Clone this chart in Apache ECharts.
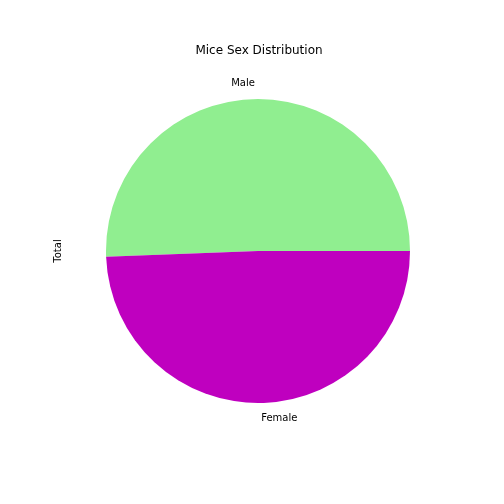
<!DOCTYPE html>
<html>
<head>
<meta charset="utf-8">
<script src="https://cdn.jsdelivr.net/npm/echarts@6/dist/echarts.min.js"></script>
<style>
  html, body { margin: 0; padding: 0; background: #fff; }
  #chart { width: 504px; height: 504px; }
</style>
</head>
<body>
<div id="chart"></div>
<script>
const sexes = ['Male', 'Female']
const mouseCounts = [958, 935]
const sliceColors = ['#90EE90', '#BF00BF']

const chart = echarts.init(document.getElementById('chart'), null, { renderer: 'canvas' })

const option = {
    animation: false,
    backgroundColor: '#ffffff',
    textStyle: { fontFamily: 'DejaVu Sans' },
    title: {
        text: 'Mice Sex Distribution',
        left: 254,
        top: 40,
        textAlign: 'center',
        textStyle: { fontFamily: 'DejaVu Sans', fontSize: 12, fontWeight: 'normal', color: '#000' }
    },
    graphic: [
        {
            type: 'text',
            x: 58,
            y: 251,
            rotation: Math.PI / 2,
            style: {
                text: 'Total',
                fontFamily: 'DejaVu Sans',
                fontSize: 10,
                fill: '#000',
                align: 'center',
                verticalAlign: 'middle'
            }
        }
    ],
    series: [
        {
            type: 'pie',
            center: [258, 251],
            radius: 152,
            startAngle: 0,
            clockwise: false,
            avoidLabelOverlap: false,
            emphasis: { disabled: true },
            data: sexes.map((name, i) => ({
                name: name,
                value: mouseCounts[i],
                itemStyle: { color: sliceColors[i] }
            })),
            label: {
                show: true,
                position: 'outside',
                formatter: '{b}',
                fontFamily: 'DejaVu Sans',
                fontSize: 10,
                color: '#000'
            },
            labelLine: { show: false, length: 15, length2: 0 },
            labelLayout: function (params) {
                const onLeft = params.labelRect.x + params.labelRect.width / 2 < 258
                return { dx: onLeft ? 5 : -5, dy: onLeft ? -1 : 0 }
            }
        }
    ]
}

chart.setOption(option)
</script>
</body>
</html>
